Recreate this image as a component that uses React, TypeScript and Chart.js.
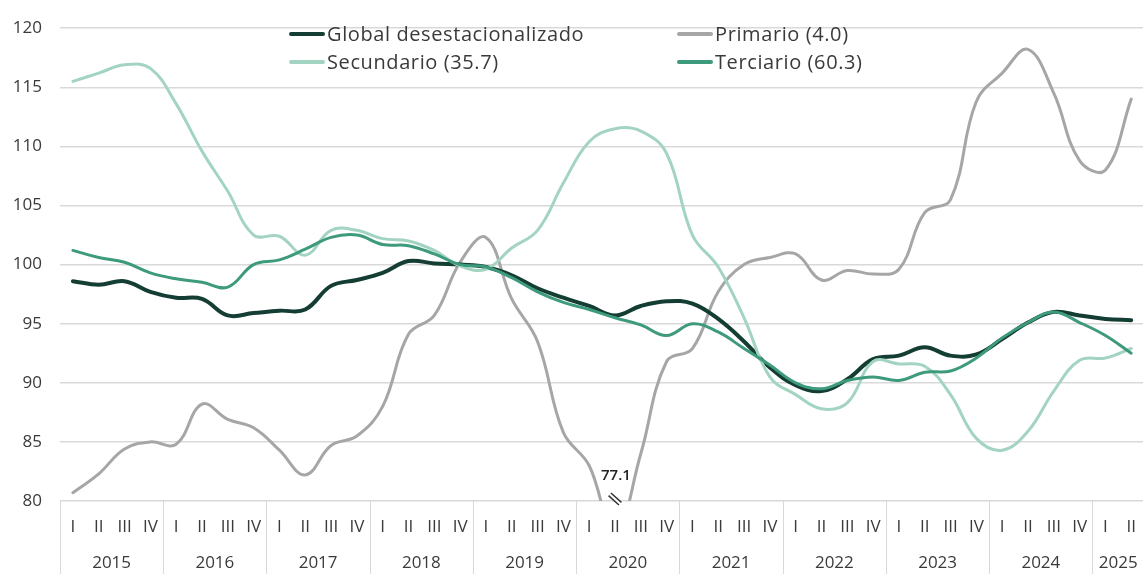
import React, { useEffect, useRef } from "react";
import { Chart, registerables } from "chart.js";

Chart.register(...registerables);

const years = ["2015", "2016", "2017", "2018", "2019", "2020", "2021", "2022", "2023", "2024", "2025"];
const quarterNames = ["I", "II", "III", "IV"];
const quarterLabels: string[] = [];
for (let y = 0; y < years.length; y++) {
  for (let q = 0; q < 4; q++) {
    if (y === years.length - 1 && q > 1) break;
    quarterLabels.push(quarterNames[q]);
  }
}

const globalDes = [
  98.6, 98.3, 98.6, 97.7,
  97.2, 97.1, 95.7, 95.9,
  96.1, 96.2, 98.2, 98.7,
  99.3, 100.3, 100.1, 100.0,
  99.8, 99.1, 98.0, 97.2,
  96.5, 95.7, 96.5, 96.9,
  96.7, 95.4, 93.5, 91.3,
  89.8, 89.3, 90.3, 92.0,
  92.3, 93.0, 92.3, 92.4,
  93.7, 95.1, 96.0, 95.7,
  95.4, 95.3,
];

const primario = [
  80.7, 82.3, 84.4, 85.0,
  84.8, 88.2, 86.9, 86.2,
  84.3, 82.2, 84.7, 85.5,
  88.0, 94.1, 95.7, 100.2,
  102.3, 97.1, 93.5, 85.8,
  83.0, 77.1, 84.0, 91.8,
  92.9, 97.7, 100.0, 100.6,
  100.9, 98.7, 99.5, 99.2,
  99.6, 104.4, 105.5, 113.8,
  116.2, 118.2, 114.5, 108.8,
  108.0, 114.0,
];

const secundario = [
  115.5, 116.2, 116.9, 116.6,
  113.6, 109.6, 106.2, 102.5,
  102.4, 100.8, 102.9, 102.9,
  102.2, 102.0, 101.2, 99.9,
  99.6, 101.4, 102.9, 106.9,
  110.4, 111.5, 111.3, 109.4,
  102.5, 99.8, 95.5, 90.5,
  89.0, 87.8, 88.3, 91.8,
  91.6, 91.4, 89.0, 85.3,
  84.3, 85.9, 89.3, 91.9,
  92.1, 92.9,
];

const terciario = [
  101.2, 100.6, 100.2, 99.3,
  98.8, 98.5, 98.1, 100.0,
  100.4, 101.3, 102.3, 102.5,
  101.7, 101.6, 100.9, 100.0,
  99.8, 98.9, 97.7, 96.8,
  96.2, 95.5, 94.9, 94.0,
  95.0, 94.3, 92.9, 91.5,
  90.0, 89.5, 90.2, 90.5,
  90.2, 90.9, 91.0, 92.1,
  93.8, 95.1, 96.0, 95.1,
  94.0, 92.5,
];

const yMin = 80;
const yMax = 120;
const yStep = 5;

const seriesNames = ["Global desestacionalizado", "Primario (4.0)", "Secundario (35.7)", "Terciario (60.3)"];
const seriesColors = ["#143d33", "#a6a6a6", "#a3d4c1", "#3d9a7d"];
const seriesWidths = [4, 3, 3, 3];
const cutValueIndex = 21; // Primario 2020 II, below axis
const cutValueText = "77.1";

const FONT = "'Open Sans', 'Noto Sans', sans-serif";
const TEXT = "#3a3a3a";
const GRID = "#d9d9d9";

const overlayPlugin = {
  id: "overlay",
  afterDraw(chart: any) {
    const { ctx, chartArea, scales } = chart;
    const xs = scales.x;
    const step = xs.getPixelForValue(1) - xs.getPixelForValue(0);
    const half = step / 2;
    ctx.save();

    // year separators & labels
    ctx.strokeStyle = GRID;
    ctx.lineWidth = 1;
    for (let k = 0; k < years.length; k++) {
      const sx = Math.round(xs.getPixelForValue(k * 4) - half) + 0.5;
      ctx.beginPath();
      ctx.moveTo(sx, chartArea.bottom);
      ctx.lineTo(sx, chart.height);
      ctx.stroke();
    }
    ctx.fillStyle = TEXT;
    ctx.font = `17px ${FONT}`;
    ctx.textAlign = "center";
    ctx.textBaseline = "middle";
    for (let k = 0; k < years.length; k++) {
      const idxs: number[] = [];
      for (let q = 0; q < 4; q++) if (k * 4 + q < quarterLabels.length) idxs.push(k * 4 + q);
      const cx = idxs.reduce((a, i) => a + xs.getPixelForValue(i), 0) / idxs.length;
      ctx.fillText(years[k], cx, chartArea.bottom + 62);
    }

    // cut value marker
    const px = xs.getPixelForValue(cutValueIndex);
    ctx.font = `600 15px ${FONT}`;
    ctx.fillStyle = "#222";
    ctx.fillText(cutValueText, px + 1, chartArea.bottom - 25);
    const by = chartArea.bottom - 2;
    const ang = (42 * Math.PI) / 180;
    const dx = Math.cos(ang) * 7;
    const dy = Math.sin(ang) * 7;
    const nx = -Math.sin(ang) * 1.8;
    const ny = Math.cos(ang) * 1.8;
    ctx.strokeStyle = "#fff";
    ctx.lineWidth = 4;
    ctx.beginPath();
    ctx.moveTo(px - dx, by - dy);
    ctx.lineTo(px + dx, by + dy);
    ctx.stroke();
    ctx.strokeStyle = "#333";
    ctx.lineWidth = 1.5;
    for (const s of [-1, 1]) {
      ctx.beginPath();
      ctx.moveTo(px - dx + s * nx, by - dy + s * ny);
      ctx.lineTo(px + dx + s * nx, by + dy + s * ny);
      ctx.stroke();
    }

    // legend
    const legendPos = [
      [289, 34],
      [677, 34],
      [289, 62],
      [677, 62],
    ];
    ctx.font = `20px ${FONT}`;
    try {
      (ctx as any).letterSpacing = "0.6px";
    } catch (e) {}
    ctx.textAlign = "left";
    ctx.textBaseline = "middle";
    ctx.lineCap = "round";
    for (let i = 0; i < seriesNames.length; i++) {
      const [lx, ly] = legendPos[i];
      ctx.strokeStyle = seriesColors[i];
      ctx.lineWidth = 4;
      ctx.beginPath();
      ctx.moveTo(lx + 2, ly);
      ctx.lineTo(lx + 34, ly);
      ctx.stroke();
      ctx.fillStyle = TEXT;
      ctx.fillText(seriesNames[i], lx + 38, ly + 1);
    }
    try {
      (ctx as any).letterSpacing = "0px";
    } catch (e) {}
    ctx.restore();
  },
};

export default function App() {
  const ref = useRef<HTMLCanvasElement | null>(null);

  useEffect(() => {
    if (!ref.current) return;
    const data = [globalDes, primario, secundario, terciario];
    const orders = [3, 4, 2, 1];
    const chart = new Chart(ref.current, {
      type: "line",
      data: {
        labels: quarterLabels,
        datasets: data.map((d, i) => ({
          label: seriesNames[i],
          data: d,
          borderColor: seriesColors[i],
          backgroundColor: seriesColors[i],
          borderWidth: seriesWidths[i],
          pointRadius: 0,
          tension: 0.4,
          fill: false,
          order: orders[i],
          borderCapStyle: "round" as const,
          borderJoinStyle: "round" as const,
        })),
      },
      options: {
        animation: false,
        responsive: true,
        maintainAspectRatio: false,
        layout: { padding: { top: 23, right: 3, bottom: 0, left: 0 } },
        plugins: {
          legend: { display: false },
          tooltip: { enabled: false },
          title: { display: false },
        },
        scales: {
          x: {
            type: "category",
            offset: true,
            grid: { display: false, drawTicks: false },
            border: { display: false },
            ticks: {
              autoSkip: false,
              maxRotation: 0,
              minRotation: 0,
              padding: 16,
              color: TEXT,
              font: { family: FONT, size: 17 },
            },
            afterFit: (s: any) => {
              s.height = 73;
            },
          },
          y: {
            min: yMin,
            max: yMax,
            ticks: {
              stepSize: yStep,
              padding: 18,
              color: TEXT,
              font: { family: FONT, size: 17 },
            },
            grid: { color: GRID, lineWidth: 1.5, drawTicks: false },
            border: { display: false },
            afterFit: (s: any) => {
              s.width = 60;
            },
          },
        },
      },
      plugins: [overlayPlugin],
    });
    return () => chart.destroy();
  }, []);

  return (
    <div style={{ position: "absolute", left: 0, top: 0, width: 1143, height: 574, overflow: "hidden", background: "#fff" }}>
      <div style={{ position: "relative", width: 1152, height: 574 }}>
        <canvas ref={ref} />
      </div>
    </div>
  );
}
